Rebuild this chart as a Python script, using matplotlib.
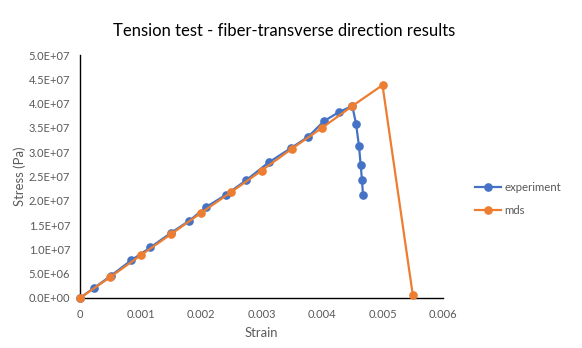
import matplotlib
matplotlib.use("Agg")
import matplotlib.pyplot as plt
from matplotlib.ticker import FuncFormatter, MultipleLocator

plt.rcParams['font.family'] = ['Lato', 'DejaVu Sans']

exp_strain = [0.0, 0.000237, 0.000512, 0.000843, 0.001163, 0.001499, 0.001807,
              0.002083, 0.002408, 0.002749, 0.003119, 0.003482, 0.003774,
              0.004033, 0.004287, 0.004501, 0.004562, 0.004612, 0.004640,
              0.004661, 0.004678]
exp_stress = [0.0, 2.12e6, 4.58e6, 7.73e6, 1.04e7, 1.336e7, 1.59e7,
              1.87e7, 2.12e7, 2.425e7, 2.79e7, 3.08e7, 3.32e7,
              3.64e7, 3.83e7, 3.95e7, 3.59e7, 3.12e7, 2.73e7,
              2.42e7, 2.11e7]

mds_strain = [0.0, 0.0005, 0.001, 0.0015, 0.002, 0.0025, 0.003, 0.0035,
              0.004, 0.0045, 0.005, 0.0055]
mds_stress = [0.0, 4.3e6, 8.76e6, 1.31e7, 1.75e7, 2.18e7, 2.62e7, 3.07e7,
              3.5e7, 3.95e7, 4.38e7, 6.8e5]

title = "Tension test - fiber-transverse direction results"
x_label = "Strain"
y_label = "Stress (Pa)"
series_names = ["experiment", "mds"]

blue = "#4472C4"
orange = "#ED7D31"
txt = "#595959"

fig = plt.figure(figsize=(5.82, 3.48), dpi=100)
ax = fig.add_axes([80/582, 1-298/348, (443-80)/582, (298-55)/348])

ax.plot(exp_strain, exp_stress, color=blue, lw=1.6, marker='o', ms=5.2,
        label=series_names[0], clip_on=False, zorder=3)
ax.plot(mds_strain, mds_stress, color=orange, lw=1.6, marker='o', ms=5.2,
        label=series_names[1], clip_on=False, zorder=4)

ax.set_xlim(0, 0.006)
ax.set_ylim(0, 5e7)
ax.xaxis.set_major_locator(MultipleLocator(0.001))
ax.yaxis.set_major_locator(MultipleLocator(5e6))

def xfmt(v, pos):
    if abs(v) < 1e-12:
        return "0"
    return f"{v:.3f}"

def yfmt(v, pos):
    return f"{v:.1E}"

ax.xaxis.set_major_formatter(FuncFormatter(xfmt))
ax.yaxis.set_major_formatter(FuncFormatter(yfmt))

for s in ['top', 'right']:
    ax.spines[s].set_visible(False)
for s in ['left', 'bottom']:
    ax.spines[s].set_color('#000000')
    ax.spines[s].set_linewidth(1.0)

ax.tick_params(axis='both', length=0, labelsize=8.0, colors=txt)
ax.tick_params(axis='x', pad=8)
ax.tick_params(axis='y', pad=7)
for lab in ax.get_xticklabels() + ax.get_yticklabels():
    lab.set_color(txt)

ax.set_xlabel(x_label, fontsize=9.4, color=txt, labelpad=5)
ax.set_ylabel(y_label, fontsize=9.4, color=txt)
ax.yaxis.set_label_coords((26-80)/363, 0.5)

fig.text(284/582, 1-31/348, title, fontsize=12.0, color='#000000',
         ha='center', va='center')

leg = ax.legend(loc='center left', bbox_to_anchor=(470/582, 1-199/348),
                bbox_transform=fig.transFigure, frameon=False,
                fontsize=8.2, handlelength=2.3, handletextpad=0.3,
                labelspacing=1.0, borderaxespad=0)
for t in leg.get_texts():
    t.set_color(txt)

fig.savefig("out.png", dpi=100)
